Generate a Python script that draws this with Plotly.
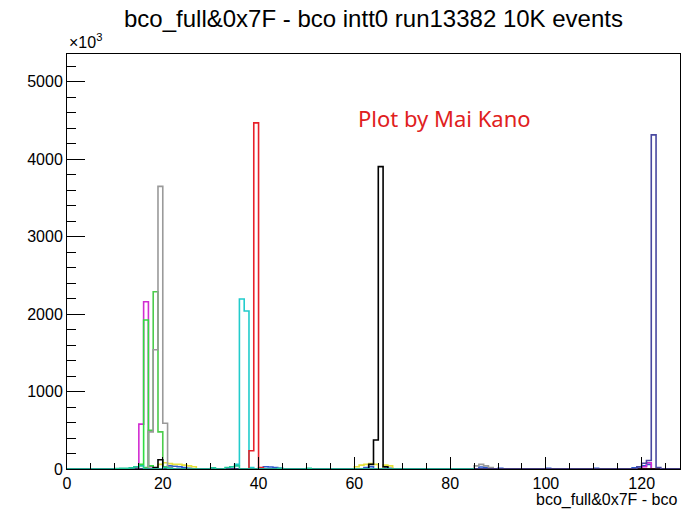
import plotly.graph_objects as go

N_BINS = 128

# sparse histogram contents (units of 10^3 counts), one pair of lists per series
blue_bins = [20, 21, 22, 23, 24, 25, 40, 41, 42, 43, 44, 62, 63, 66, 67, 86, 87, 88, 90, 100, 110, 118, 119, 120, 121]
blue_vals = [25, 40, 35, 30, 20, 10, 15, 30, 25, 20, 10, 20, 30, 25, 10, 25, 20, 15, 10, 10, 10, 15, 25, 40, 60]

yellow_bins = [19, 20, 21, 22, 23, 24, 25, 26, 60, 61, 62, 63, 64, 66, 67]
yellow_vals = [60, 80, 70, 60, 60, 50, 40, 30, 30, 50, 60, 70, 60, 50, 40]

magenta_bins = [14, 15, 16, 17, 120, 121]
magenta_vals = [20, 580, 2160, 30, 30, 80]

green_bins = [14, 15, 16, 17]
green_vals = [30, 60, 1925, 40]

green2_bins = [16, 17, 18, 19, 20]
green2_vals = [20, 500, 2290, 480, 30]

gray_bins = [17, 18, 19, 20, 21, 85, 86, 87, 88]
gray_vals = [480, 1540, 3650, 590, 20, 40, 60, 40, 20]

cyan_bins = [34, 35, 36, 37, 38]
cyan_vals = [30, 60, 2195, 2040, 20]

red_bins = [38, 39, 40]
red_vals = [235, 4470, 20]

black_bins = [18, 19, 63, 64, 65, 66]
black_vals = [20, 120, 60, 375, 3905, 30]

navy_bins = [119, 120, 121, 122, 123]
navy_vals = [30, 75, 110, 4315, 20]

# teal series only spans the first 85 bins
teal_nbins = 85
teal_bins = [10, 11, 12, 13, 14, 15, 20, 21, 30, 33, 34, 35, 44, 50]
teal_vals = [5, 8, 10, 15, 30, 40, 20, 10, 15, 20, 30, 40, 10, 8]

series = [
    ("blue", blue_bins, blue_vals, "#2c58d0", N_BINS),
    ("yellow", yellow_bins, yellow_vals, "#e6e23c", N_BINS),
    ("magenta", magenta_bins, magenta_vals, "#d22cd2", N_BINS),
    ("green", green_bins, green_vals, "#30dc40", N_BINS),
    ("green2", green2_bins, green2_vals, "#4ccc4c", N_BINS),
    ("gray", gray_bins, gray_vals, "#9a9a9a", N_BINS),
    ("cyan", cyan_bins, cyan_vals, "#22cccc", N_BINS),
    ("red", red_bins, red_vals, "#e8202a", N_BINS),
    ("black", black_bins, black_vals, "#000000", N_BINS),
    ("navy", navy_bins, navy_vals, "#4848a0", N_BINS),
    ("teal", teal_bins, teal_vals, "#20c89a", teal_nbins),
]

y_ticks = [0, 1000, 2000, 3000, 4000, 5000]
x_ticks = [0, 20, 40, 60, 80, 100, 120]

fig = go.Figure()
for name, bins, vals, color, nb in series:
    content = [0] * nb
    for b, v in zip(bins, vals):
        content[b] = v
    edges = list(range(nb + 1))
    fig.add_trace(go.Scatter(
        x=edges, y=content + [content[-1]],
        mode="lines", line=dict(shape="hv", color=color, width=1.6),
        name=name, showlegend=False, hoverinfo="skip",
    ))

font = "Liberation Sans, Arial, sans-serif"
fig.update_layout(
    width=690, height=510,
    margin=dict(l=67, r=10, t=54, b=41),
    paper_bgcolor="white", plot_bgcolor="white",
    title=dict(text="bco_full&0x7F - bco intt0 run13382 10K events",
               x=0.5, xref="paper", xanchor="center",
               y=1 - 19 / 510, yref="container", yanchor="middle",
               font=dict(family=font, size=24, color="black")),
    font=dict(family=font, size=16, color="black"),
)
fig.update_xaxes(
    range=[0, 128], tickvals=x_ticks, ticks="inside", ticklen=12, tickwidth=1,
    tickcolor="black", showline=True, linecolor="black", linewidth=1, mirror=True,
    showgrid=False, zeroline=False, tickfont=dict(family=font, size=16),
    minor=dict(ticks="inside", ticklen=6, dtick=5, tick0=0, tickcolor="black", showgrid=False),
)
fig.update_yaxes(
    range=[0, 5360], tickvals=y_ticks, tickformat="d", ticks="inside", ticklen=18, tickwidth=1,
    tickcolor="black", showline=True, linecolor="black", linewidth=1, mirror=True,
    showgrid=False, zeroline=False, tickfont=dict(family=font, size=16),
    minor=dict(ticks="inside", ticklen=9, dtick=200, tick0=0, tickcolor="black", showgrid=False),
)
fig.add_annotation(text="×10<sup>3</sup>", xref="paper", yref="paper", x=0, y=1.0,
                   xanchor="left", yanchor="bottom", yshift=1, showarrow=False,
                   font=dict(family=font, size=16, color="black"))
fig.add_annotation(text="bco_full&0x7F - bco", xref="paper", yref="paper", x=1, y=-(500 - 469) / 415,
                   xanchor="right", yanchor="middle", showarrow=False,
                   font=dict(family=font, size=16, color="black"))
fig.add_annotation(text="Plot by Mai Kano", xref="paper", yref="paper",
                   x=(445 - 67) / 613, y=(469 - 118) / 415,
                   xanchor="center", yanchor="middle", showarrow=False,
                   font=dict(family="Noto Sans, sans-serif", size=22, color="#e02020"))

fig.write_html("out.html")
